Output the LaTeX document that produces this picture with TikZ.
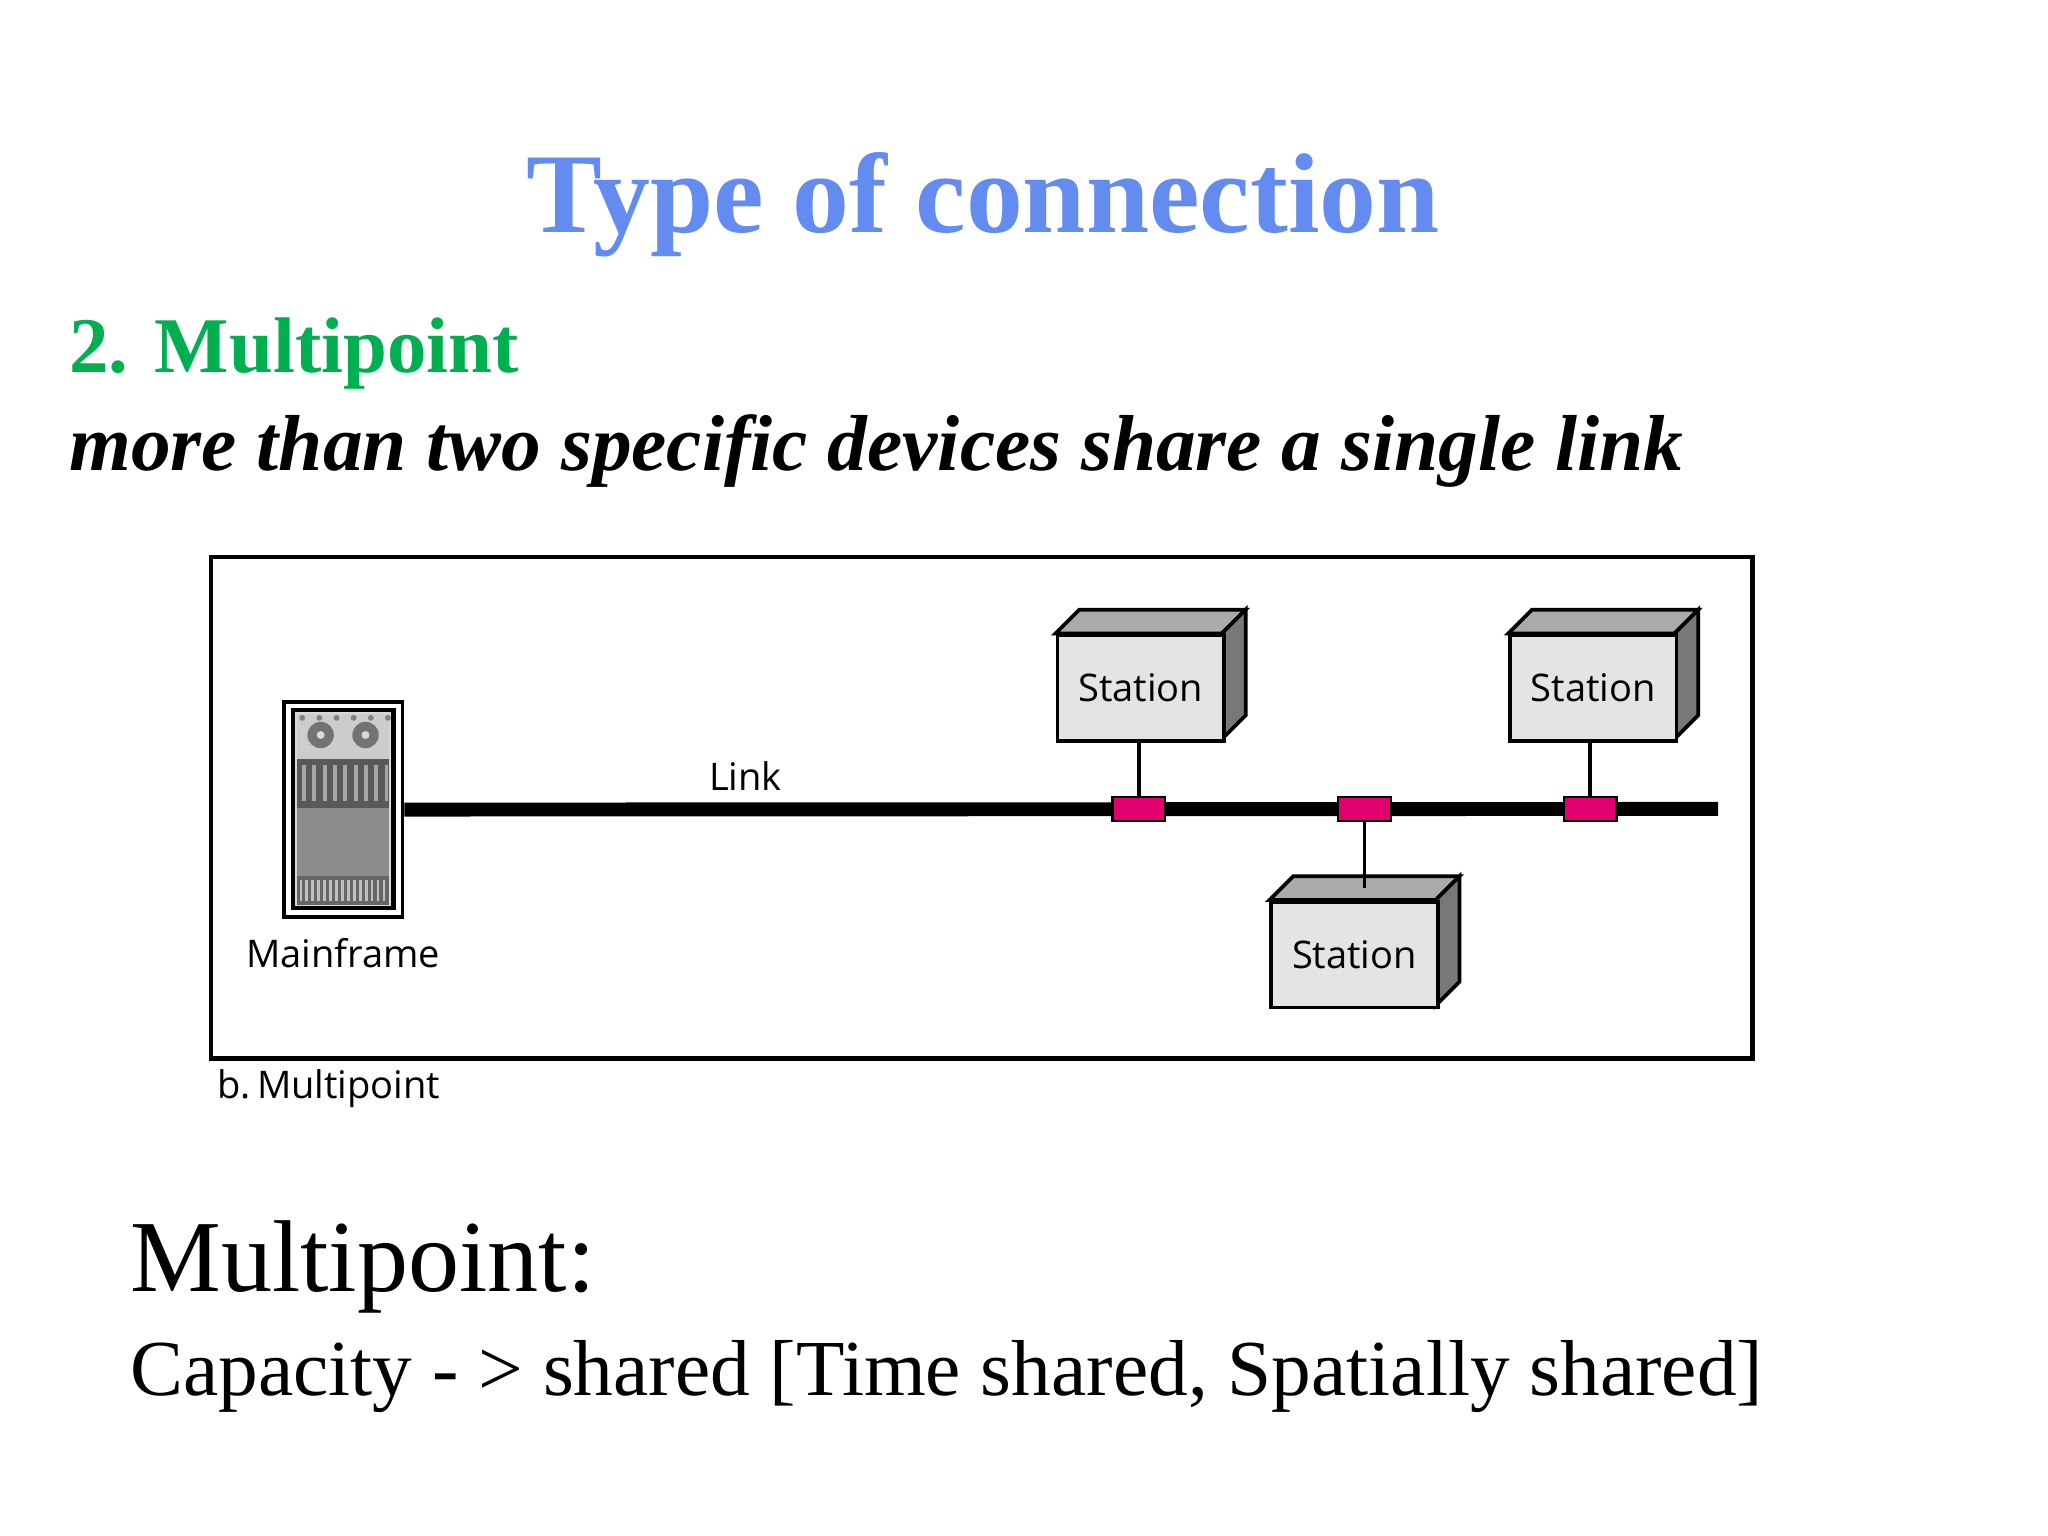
\documentclass[tikz,border=0pt]{standalone}
\usepackage{fontspec}
\setmainfont{Liberation Serif}
\newfontfamily\figsans{Open Sans}
\definecolor{titleblue}{RGB}{100,140,240}
\definecolor{mpgreen}{RGB}{0,176,80}
\definecolor{pinkc}{RGB}{225,0,110}
\definecolor{boxfront}{RGB}{228,228,228}
\definecolor{boxtop}{RGB}{170,170,170}
\definecolor{boxside}{RGB}{120,120,120}
\tikzset{
 figlabel/.style={font=\figsans\fontsize{8.2}{10}\selectfont},
 tap/.style={draw=black, fill=pinkc, line width=0.5pt},
 drop/.style={line width=0.8pt}
}
\newcommand{\stationbox}[3]{% name, x, y (front top-left)
 \fill[boxtop,draw=black,line width=0.8pt] (#2,#3) -- ++(18,-18) -- ++(126,0) -- ++(-18,18) -- cycle;
 \fill[boxside,draw=black,line width=0.8pt] (#2+126,#3) -- ++(18,-18) -- ++(0,80) -- ++(-18,18) -- cycle;
 \node[draw=black,fill=boxfront,line width=0.8pt,minimum width=126*0.2845pt,minimum height=80*0.2845pt,inner sep=0pt,anchor=north west,figlabel] (#1) at (#2,#3) {Station};
}
\begin{document}
\begin{tikzpicture}[x=0.01cm,y=-0.01cm]
\useasboundingbox (0,0) rectangle (1552,1164);
\node[text=titleblue,font=\bfseries\fontsize{24.5}{30}\selectfont] (title) at (745,155) {Type of connection};
\node[text=mpgreen,font=\bfseries\fontsize{17}{20}\selectfont,anchor=west,inner sep=0pt] (sub) at (52,268) {2. Multipoint};
\node[font=\bfseries\itshape\fontsize{17.1}{20}\selectfont,anchor=west,inner sep=0pt] (def) at (52,342) {more than two specific devices share a single link};
\draw[line width=1pt] (160,422) rectangle (1328,802);
\coordinate (linkend) at (1302,613);
% mainframe
\node[draw=black,line width=0.8pt,fill=white,minimum width=90*0.2845pt,minimum height=163*0.2845pt,inner sep=0pt] (mf) at (260,613.5) {};
\fill[black!15,draw=black,line width=1pt] (222,538) rectangle (298,688);
\fill[black!20] (225,541) rectangle (295,575);
\foreach \i in {0,...,5} \fill[black!50] (229+\i*13,544) circle (2.2);
\fill[black!55] (243,557) circle (10); \fill[black!55] (277,557) circle (10);
\fill[black!15] (243,557) circle (3); \fill[black!15] (277,557) circle (3);
\fill[black!65] (225,575) rectangle (295,612);
\foreach \i in {0,...,8} \fill[black!35] (229+\i*7.8,580) rectangle (232+\i*7.8,607);
\fill[black!45] (225,612) rectangle (295,664);
\fill[black!60] (225,664) rectangle (295,686);
\foreach \i in {0,...,14} \fill[black!25] (227+\i*4.5,667) rectangle (229+\i*4.5,683);
\draw[line width=1pt] (222,538) rectangle (298,688);
\draw[line width=3pt] (mf.east) -- (linkend);
\node[figlabel] (linklbl) at (565,588) {Link};
\node[figlabel] (mflbl) at (260,722) {Mainframe};
\node[figlabel,anchor=west,inner sep=0pt] (cap) at (164,825) {b.\,Multipoint};
% stations
\stationbox{s1}{800}{480}
\stationbox{s2}{1143}{480}
\stationbox{s3}{962}{682}
\node[tap,minimum width=40*0.2845pt,minimum height=18*0.2845pt,inner sep=0pt] (t1) at (863,613) {};
\node[tap,minimum width=40*0.2845pt,minimum height=18*0.2845pt,inner sep=0pt] (t2) at (1034,613) {};
\node[tap,minimum width=40*0.2845pt,minimum height=18*0.2845pt,inner sep=0pt] (t3) at (1205,613) {};
\draw[drop] (s1.south -| t1) -- (t1.north);
\draw[drop] (s2.south -| t3) -- (t3.north);
\draw[drop] (t2.south) -- (1034,673);
\node[font=\fontsize{22}{26}\selectfont,anchor=west,inner sep=0pt] (mp) at (98,960) {Multipoint:};
\node[font=\fontsize{17.1}{20}\selectfont,anchor=west,inner sep=0pt] (capl) at (98,1043) {Capacity - > shared [Time shared, Spatially shared]};
\end{tikzpicture}
\end{document}
